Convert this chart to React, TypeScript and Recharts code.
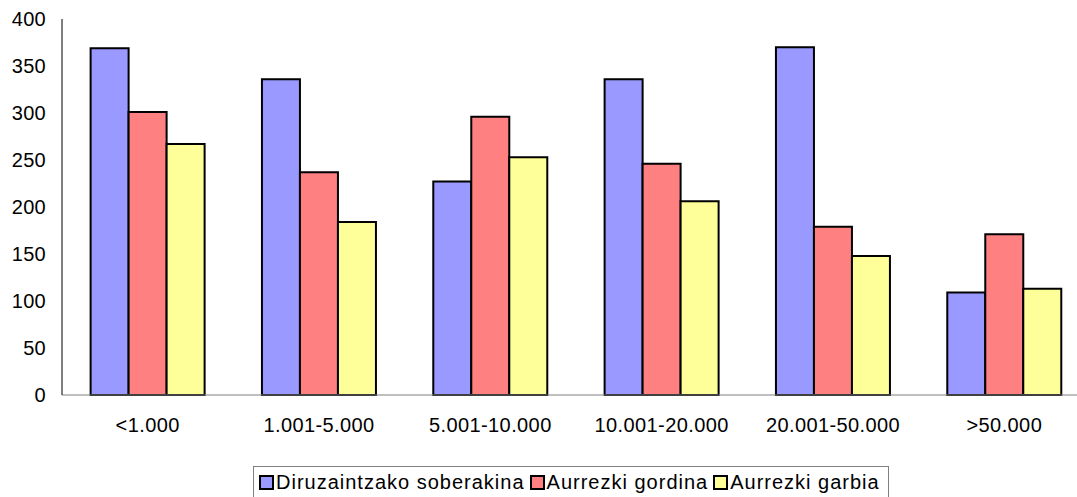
import React from "react";
import { BarChart, Bar, XAxis, YAxis } from "recharts";

const categories = ["<1.000", "1.001-5.000", "5.001-10.000", "10.001-20.000", "20.001-50.000", ">50.000"];
const soberakina = [369, 336, 227, 336, 370, 109];
const gordina = [301, 237, 296, 246, 179, 171];
const garbia = [267, 184, 253, 206, 148, 113];
const yTicks = [0, 50, 100, 150, 200, 250, 300, 350, 400];

const series = [
  { key: "soberakina", label: "Diruzaintzako soberakina", color: "#9999FF" },
  { key: "gordina", label: "Aurrezki gordina", color: "#FF8080" },
  { key: "garbia", label: "Aurrezki garbia", color: "#FFFF99" },
];

const data = categories.map((name, i) => ({
  name,
  soberakina: soberakina[i],
  gordina: gordina[i],
  garbia: garbia[i],
}));

const font = "Arial, 'Liberation Sans', sans-serif";

export default function App() {
  return (
    <div style={{ position: "absolute", left: 0, top: 0, width: 1077, height: 497, overflow: "hidden", fontFamily: font }}>
      <BarChart
        width={1090}
        height={497}
        data={data}
        margin={{ top: 19, right: 0, bottom: 72, left: 0 }}
        barCategoryGap="16.7%"
        barGap={0}
      >
        <XAxis
          dataKey="name"
          height={30}
          stroke="#808080"
          tickLine={false}
          tick={{ fill: "#000", fontSize: 20, fontFamily: font, letterSpacing: 0.4 }}
          tickMargin={17}
        />
        <YAxis
          width={62}
          domain={[0, 400]}
          ticks={yTicks}
          stroke="#000"
          tickLine={false}
          tickMargin={10}
          tick={{ fill: "#000", fontSize: 20, fontFamily: font, letterSpacing: 0.3 }}
        />
        {series.map((s) => (
          <Bar
            key={s.key}
            dataKey={s.key}
            fill={s.color}
            stroke="#000"
            strokeWidth={2}
            isAnimationActive={false}
          />
        ))}
      </BarChart>
      <div
        style={{
          position: "absolute",
          left: 253,
          top: 466,
          width: 636,
          height: 32,
          border: "1px solid #808080",
          borderBottom: "none",
          boxSizing: "border-box",
          display: "flex",
          alignItems: "center",
          paddingLeft: 5,
          fontSize: 20,
          letterSpacing: 1.0,
          color: "#000",
          whiteSpace: "nowrap",
        }}
      >
        {series.map((s) => (
          <span key={s.key} style={{ display: "inline-flex", alignItems: "center", marginRight: 5 }}>
            <span
              style={{
                display: "inline-block",
                width: 11,
                height: 11,
                background: s.color,
                border: "2px solid #000",
                marginRight: 2,
              }}
            />
            {s.label}
          </span>
        ))}
      </div>
    </div>
  );
}
